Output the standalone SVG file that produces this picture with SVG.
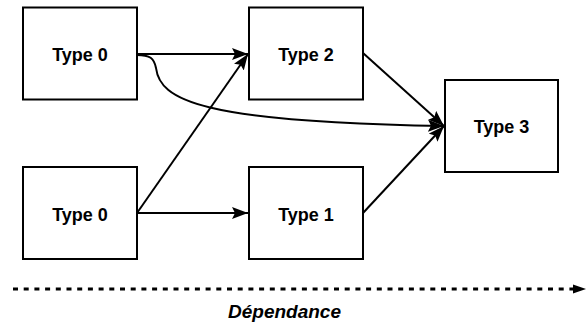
<svg xmlns="http://www.w3.org/2000/svg" width="586" height="325" viewBox="0 0 586 325">
<style>
.box{fill:#fff;stroke:#000;stroke-width:2}
.lbl{font-family:"Liberation Sans",Arial,sans-serif;font-weight:bold;font-size:18px;text-anchor:middle;fill:#000}
.edge{fill:none;stroke:#000;stroke-width:2}
</style>
<defs>
<marker id="arr" markerUnits="userSpaceOnUse" markerWidth="18" markerHeight="14" refX="16" refY="6" orient="auto" viewBox="0 0 18 14">
<path d="M0,0 L16,6 L0,12 L3,6 z" fill="#000"/>
</marker>
<marker id="arr2" markerUnits="userSpaceOnUse" markerWidth="14" markerHeight="12" refX="13" refY="5" orient="auto" viewBox="0 0 14 12">
<path d="M0,0 L13,5 L0,10 L2,5 z" fill="#000"/>
</marker>
</defs>
<g id="connectors">
<path class="edge" d="M137,54 L248,54" marker-end="url(#arr)"/>
<path class="edge" d="M137,55 C150,55 154,58 156,68 C160,100 200,122 444,126" marker-end="url(#arr)"/>
<path class="edge" d="M137,213 L248,54" marker-end="url(#arr)"/>
<path class="edge" d="M137,213 L248,213" marker-end="url(#arr)"/>
<path class="edge" d="M363,53 L444,126" marker-end="url(#arr)"/>
<path class="edge" d="M363,213 L444,126" marker-end="url(#arr)"/>
<path d="M13,289 L576,289" fill="none" stroke="#000" stroke-width="3" stroke-dasharray="5 5.7"/>
<path d="M573,284.5 L586,289 L573,293.5 z" fill="#000"/>
</g>
<g id="n0a"><rect class="box" x="23" y="7.5" width="114" height="92"/><text class="lbl" x="80" y="60.5">Type 0</text></g>
<g id="n2"><rect class="box" x="249" y="7.5" width="114" height="92"/><text class="lbl" x="306" y="60.5">Type 2</text></g>
<g id="n3"><rect class="box" x="445" y="80" width="113" height="92"/><text class="lbl" x="501.5" y="133">Type 3</text></g>
<g id="n0b"><rect class="box" x="23" y="167" width="114" height="92"/><text class="lbl" x="80" y="220.5">Type 0</text></g>
<g id="n1"><rect class="box" x="249" y="167" width="114" height="92"/><text class="lbl" x="306" y="220.5">Type 1</text></g>
<g id="legend"><text x="284.5" y="318" style="font-family:'Liberation Sans',Arial,sans-serif;font-weight:bold;font-style:italic;font-size:19px;text-anchor:middle">Dépendance</text></g>
</svg>
